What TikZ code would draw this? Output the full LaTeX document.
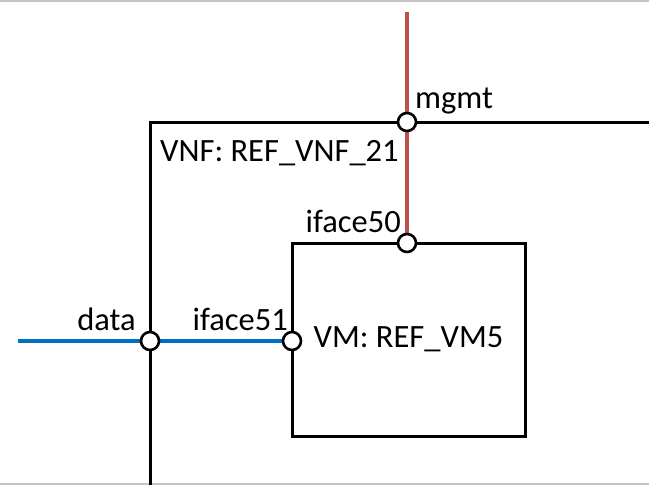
\documentclass[tikz,border=0pt]{standalone}
\usepackage{fontspec}
\setmainfont{Carlito}
\usetikzlibrary{backgrounds}

\definecolor{mgmtred}{HTML}{C0504D}
\definecolor{datablue}{HTML}{0070C0}
\definecolor{edgegray}{HTML}{C4C4C4}

\tikzset{
    frame/.style={draw=black, line width=3pt},
    port/.style={circle, draw=black, fill=white, line width=2.6pt, inner sep=0pt, minimum size=18pt},
    mgmtlink/.style={draw=mgmtred, line width=3.5pt},
    datalink/.style={draw=datablue, line width=3.5pt},
    txt/.style={inner sep=0pt, anchor=base west},
}

\begin{document}
\begin{tikzpicture}[x=1pt, y=-1pt, font=\fontsize{32.5}{38}\selectfont]
        \useasboundingbox (0,0) rectangle (649,485);
        \draw[edgegray, line width=2pt] (0,1) -- (649,1);
        \draw[edgegray, line width=2pt] (0,484) -- (649,484);
        % VNF box
        \draw[frame] (150,485) -- (150,122) -- (649,122);
        \node[txt] (vnflabel) at (160,161) {VNF: REF\_VNF\_21};
        % VM box
        \node[frame, minimum width=233pt, minimum height=193pt, inner sep=0pt] (vm) at (408.5,339.5) {VM: REF\_VM5};
        % ports
        \node[port] (mgmt) at (407,122) {};
        \node[port] (if50) at (407,243) {};
        \node[port] (data) at (150,341) {};
        \node[port] (if51) at (292,341) {};
        \coordinate (mgmtin) at (407,12);
        \coordinate (datain) at (18,341);
        \node[txt] (mgmtlabel) at (415,108) {mgmt};
        \node[txt, anchor=base east] (if50label) at (401,232) {iface50};
        \node[txt, anchor=base east] (datalabel) at (136,330) {data};
        \node[txt, anchor=base east] (if51label) at (288,330) {iface51};
        \begin{pgfonlayer}{background}
            \draw[mgmtlink] (mgmtin) -- (if50);
            \draw[datalink] (datain) -- (if51);
        \end{pgfonlayer}
\end{tikzpicture}
\end{document}
